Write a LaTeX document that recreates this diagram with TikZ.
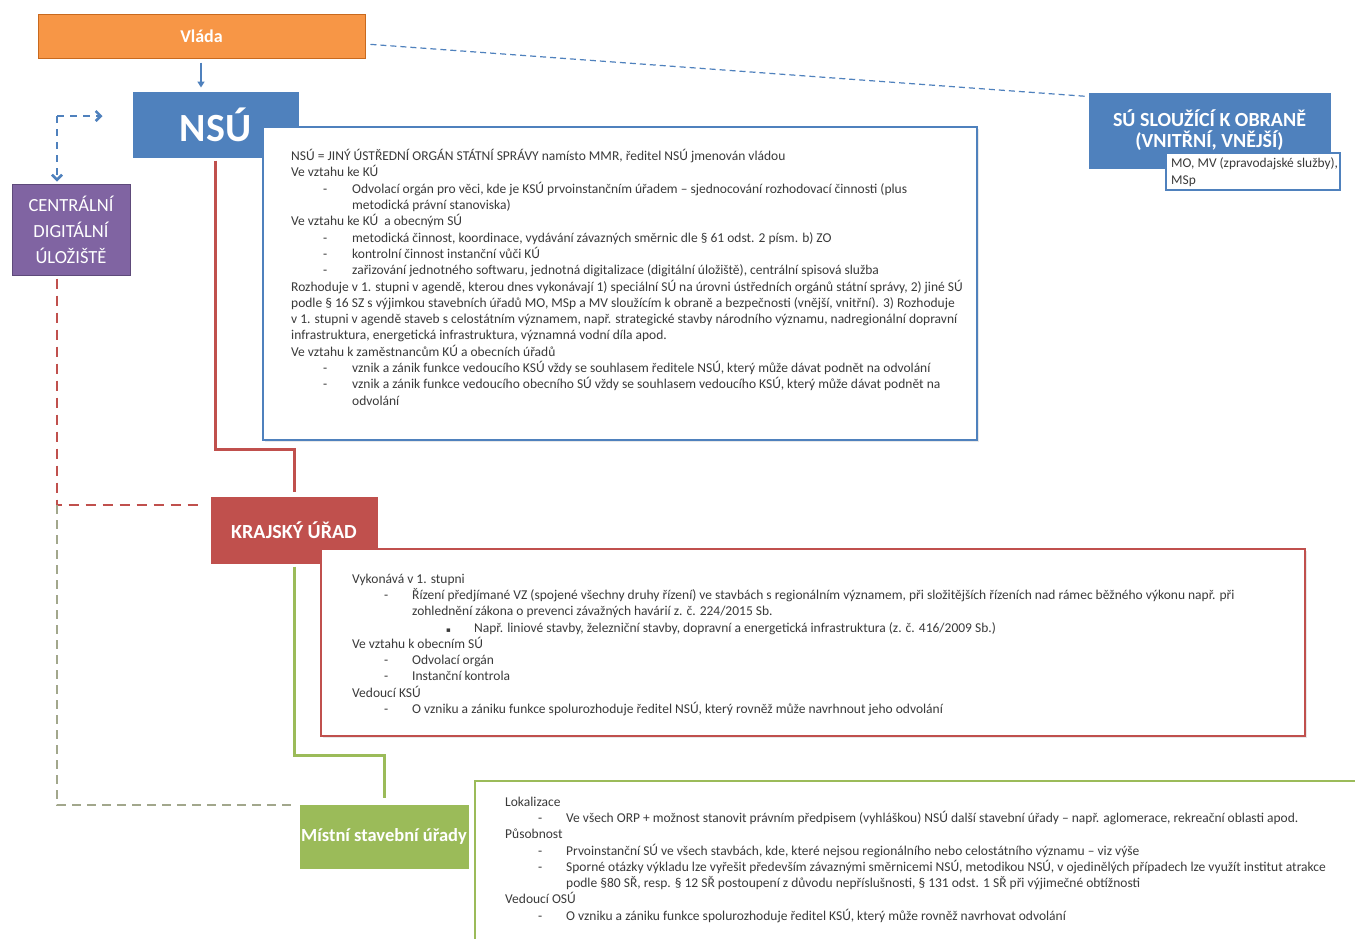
\documentclass[tikz,border=0pt]{standalone}
\usepackage{fontspec}
\setmainfont{Carlito}
\newfontfamily\symfont{DejaVu Sans}
\usetikzlibrary{arrows.meta,shadows}

\definecolor{cOrange}{HTML}{F79646}
\definecolor{cOrangeD}{HTML}{C8691E}
\definecolor{cBlue}{HTML}{4F81BD}
\definecolor{cBlueD}{HTML}{3A6699}
\definecolor{cPurple}{HTML}{8064A2}
\definecolor{cPurpleD}{HTML}{5E4A7A}
\definecolor{cRed}{HTML}{C0504D}
\definecolor{cRedD}{HTML}{953B39}
\definecolor{cGreen}{HTML}{9BBB59}
\definecolor{cGreenD}{HTML}{7A9444}
\definecolor{cText}{HTML}{3A3A3A}
\definecolor{cGrayGreen}{HTML}{A2A78C}

\newcommand\myb[3]{\hspace*{#1}\makebox[#2][l]{-}#3}

\tikzset{
  box/.style={rectangle, inner sep=0pt, text=white, align=center, line width=1pt},
  tbox/.style={rectangle, fill=white, line width=2.5pt, inner sep=0pt,
    drop shadow={opacity=0.18, shadow xshift=2pt, shadow yshift=-2pt}},
  btext/.style={anchor=north west, inner sep=0pt, align=left, text=cText,
    font=\fontsize{13.5}{16.3}\selectfont},
  conn/.style={line width=3pt},
  dconn/.style={line width=2.5pt, dash pattern=on 10pt off 7pt},
}

\begin{document}
\begin{tikzpicture}[x=1pt,y=-1pt]
\useasboundingbox (0,0) rectangle (1355,938);
\fill[white] (0,0) rectangle (1355,938);
\clip (0,0) rectangle (1355,938);

% --- top boxes
\node[box, fill=cOrange, draw=cOrangeD, minimum width=327pt, minimum height=44pt,
  font=\bfseries\fontsize{18}{20}\selectfont] (vlada) at (201.5,36) {Vláda};
\node[box, fill=cBlue, draw=cBlue, minimum width=165pt, minimum height=65pt,
  font=\bfseries\fontsize{40}{42}\selectfont] (nsu) at (215.5,124.5) {NSÚ};
\node[box, fill=cPurple, draw=cPurpleD, minimum width=118pt, minimum height=91pt,
  font=\fontsize{18.5}{26}\selectfont] (cdu) at (71,229.5) {CENTRÁLNÍ\\DIGITÁLNÍ\\ÚLOŽIŠTĚ};
\node[box, fill=cBlue, draw=cBlue, minimum width=241pt, minimum height=75pt,
  font=\bfseries\fontsize{20}{21}\selectfont] (su) at (1209.5,130.5) {SÚ SLOUŽÍCÍ K OBRANĚ\\(VNITŘNÍ, VNĚJŠÍ)};
\node[rectangle, fill=white, draw=cBlue, line width=2pt, minimum width=174pt, minimum height=37pt]
  (subox) at (1253,171.5) {};
\node[anchor=north west, inner sep=0pt, align=left, text=cText,
  font=\fontsize{13.4}{16.5}\selectfont] (subtxt) at (1171,156)
  {\strut MO, MV (zpravodajské služby),\\MSp};

% --- NSU text box
\node[tbox, draw=cBlue, minimum width=714pt, minimum height=313pt] (nsubox) at (620,283.5) {};
\node[btext] (nsutxt) at (291,149) {\strut NSÚ = JINÝ ÚSTŘEDNÍ ORGÁN STÁTNÍ SPRÁVY namísto MMR, ředitel NSÚ jmenován vládou\\
Ve vztahu ke KÚ\\
\myb{32pt}{29pt}{Odvolací orgán pro věci, kde je KSÚ prvoinstančním úřadem – sjednocování rozhodovací činnosti (plus}\\
\hspace*{61pt}metodická právní stanoviska)\\
Ve vztahu ke KÚ\ \ a obecným SÚ\\
\myb{32pt}{29pt}{metodická činnost, koordinace, vydávání závazných směrnic dle § 61 odst. 2 písm. b) ZO}\\
\myb{32pt}{29pt}{kontrolní činnost instanční vůči KÚ}\\
\myb{32pt}{29pt}{zařizování jednotného softwaru, jednotná digitalizace (digitální úložiště), centrální spisová služba}\\
Rozhoduje v 1. stupni v agendě, kterou dnes vykonávají 1) speciální SÚ na úrovni ústředních orgánů státní správy, 2) jiné SÚ\\
podle § 16 SZ s výjimkou stavebních úřadů MO, MSp a MV sloužícím k obraně a bezpečnosti (vnější, vnitřní). 3) Rozhoduje\\
v 1. stupni v agendě staveb s celostátním významem, např. strategické stavby národního významu, nadregionální dopravní\\
infrastruktura, energetická infrastruktura, významná vodní díla apod.\\
Ve vztahu k zaměstnancům KÚ a obecních úřadů\\
\myb{32pt}{29pt}{vznik a zánik funkce vedoucího KSÚ vždy se souhlasem ředitele NSÚ, který může dávat podnět na odvolání}\\
\myb{32pt}{29pt}{vznik a zánik funkce vedoucího obecního SÚ vždy se souhlasem vedoucího KSÚ, který může dávat podnět na}\\
\hspace*{61pt}odvolání};

% --- Krajsky urad
\node[box, fill=cRed, draw=cRed, minimum width=166pt, minimum height=66pt,
  font=\bfseries\fontsize{20}{22}\selectfont] (ku) at (294,530) {KRAJSKÝ ÚŘAD};
\node[tbox, draw=cRed, minimum width=984pt, minimum height=187pt] (kubox) at (813,642.5) {};
\node[btext] (kutxt) at (352,571.5) {\strut Vykonává v 1. stupni\\
\myb{32pt}{28pt}{Řízení předjímané VZ (spojené všechny druhy řízení) ve stavbách s regionálním významem, při složitějších řízeních nad rámec běžného výkonu např. při}\\
\hspace*{60pt}zohlednění zákona o prevenci závažných havárií z. č. 224/2015 Sb.\\
\hspace*{94pt}\makebox[28pt][l]{\symfont\fontsize{7}{7}\selectfont ▪}Např. liniové stavby, železniční stavby, dopravní a energetická infrastruktura (z. č. 416/2009 Sb.)\\
Ve vztahu k obecním SÚ\\
\myb{32pt}{28pt}{Odvolací orgán}\\
\myb{32pt}{28pt}{Instanční kontrola}\\
Vedoucí KSÚ\\
\myb{32pt}{28pt}{O vzniku a zániku funkce spolurozhoduje ředitel NSÚ, který rovněž může navrhnout jeho odvolání}};

% --- Mistni stavebni urady
\node[box, fill=cGreen, draw=cGreen, minimum width=168pt, minimum height=63pt,
  font=\bfseries\fontsize{18.5}{20}\selectfont] (msu) at (384,836.5) {Místní stavební úřady};
\node[tbox, draw=cGreen, minimum width=900pt, minimum height=180pt] (msubox) at (925,871) {};
\node[btext] (msutxt) at (505,794.5) {\strut Lokalizace\\
\myb{33pt}{28pt}{Ve všech ORP + možnost stanovit právním předpisem (vyhláškou) NSÚ další stavební úřady – např. aglomerace, rekreační oblasti apod.}\\
Působnost\\
\myb{33pt}{28pt}{Prvoinstanční SÚ ve všech stavbách, kde, které nejsou regionálního nebo celostátního významu – viz výše}\\
\myb{33pt}{28pt}{Sporné otázky výkladu lze vyřešit především závaznými směrnicemi NSÚ, metodikou NSÚ, v ojedinělých případech lze využít institut atrakce}\\
\hspace*{61pt}podle §80 SŘ, resp. § 12 SŘ postoupení z důvodu nepříslušnosti, § 131 odst. 1 SŘ při výjimečné obtížnosti\\
Vedoucí OSÚ\\
\myb{33pt}{28pt}{O vzniku a zániku funkce spolurozhoduje ředitel KSÚ, který může rovněž navrhovat odvolání}};

% --- connectors
\coordinate (r1) at (0,449);
\coordinate (g1) at (0,755);
\coordinate (bc) at (57,116);
\coordinate (dL) at (57,505);
\coordinate (dB) at (57,805);
\coordinate (vx) at (201,0);

\draw[cBlue, line width=1.5pt, -{Triangle[length=6pt,width=7pt]}, shorten <=4pt, shorten >=4pt]
  (vlada.south -| vx) -- (nsu.north -| vx);
\draw[cBlue, line width=1.2pt, dash pattern=on 6pt off 4pt, shorten <=5pt]
  ([yshift=-8pt]vlada.east) -- ([yshift=-4pt]su.north west);
\draw[cBlue, dconn, dash pattern=on 7pt off 6pt, -{Straight Barb[length=5pt,width=10pt]}, shorten >=30pt]
  (bc) -- (nsu.west |- bc);
\draw[cBlue, dconn, dash pattern=on 7pt off 6pt, -{Straight Barb[length=5pt,width=10pt]}, shorten >=2pt]
  (bc) -- (cdu.north -| bc);
\draw[cRed, conn, shorten <=3pt, shorten >=5pt]
  (nsu.south) -- (nsu.south |- r1) -- (ku.north |- r1) -- (ku.north);
\draw[cGreen, conn, shorten <=3pt, shorten >=7pt]
  (ku.south) -- (ku.south |- g1) -- (msu.north |- g1) -- (msu.north);
\draw[cRed, dconn, shorten <=3pt, shorten >=6pt]
  (cdu.south -| dL) -- (dL) -- (ku.west |- dL);
\draw[cGrayGreen, line width=2pt, dash pattern=on 9pt off 6pt, shorten >=9pt]
  (dL) -- (dB) -- (msu.north west |- dB);
\end{tikzpicture}
\end{document}
